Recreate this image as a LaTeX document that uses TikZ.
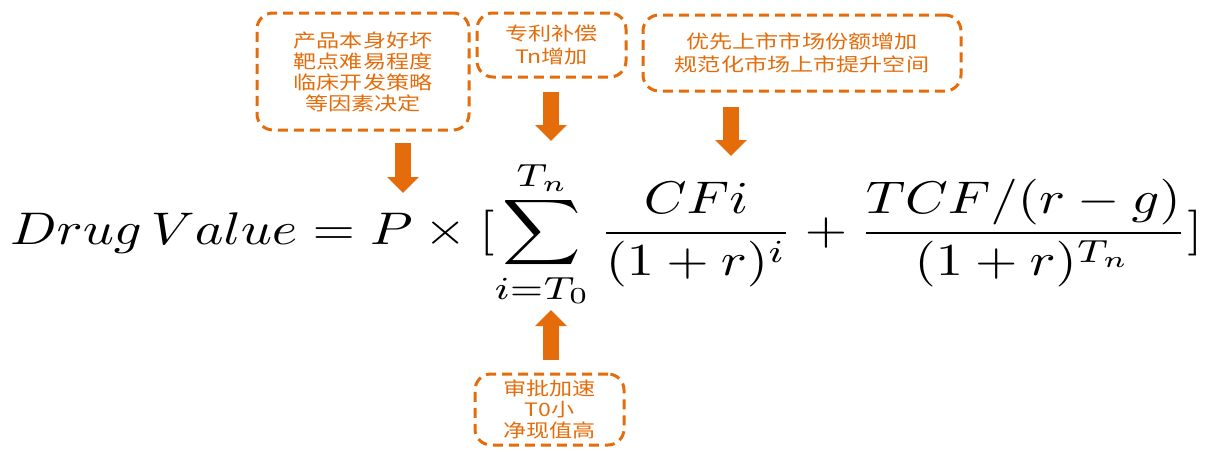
\documentclass[tikz,border=0pt]{standalone}
\usepackage{fontspec}
\usepackage{amsmath}
\usetikzlibrary{arrows.meta}
\newfontfamily\cjk[FakeStretch=1.25]{Noto Sans CJK SC}
\definecolor{org}{HTML}{E46C0A}
\tikzset{
  dbox/.style={draw=org, line width=3pt, dash pattern=on 10pt off 6pt,
    rounded corners=16pt, inner sep=0pt, text=org, align=center,
    font=\cjk\fontsize{18.5}{22.5}\selectfont},
  bigarrow/.style={draw=org, line width=16pt,
    -{Triangle[width=31pt,length=16pt]}}
}
\begin{document}
\begin{tikzpicture}[x=1pt,y=-1pt]
\useasboundingbox (0,0) rectangle (1211,451);
% boxes
\node[dbox, minimum width=212pt, minimum height=117pt] (b1) at (363,71.5)
  {产品本身好坏\\[-1.5pt]靶点难易程度\\[-1.5pt]临床开发策略\\[-1.5pt]等因素决定};
\node[dbox, minimum width=149pt, minimum height=64pt] (b2) at (551.5,45)
  {专利补偿\\Tn增加};
\node[dbox, minimum width=318pt, minimum height=76pt] (b3) at (802,53)
  {优先上市市场份额增加\\规范化市场上市提升空间};
\node[dbox, minimum width=149pt, minimum height=71pt] (b4) at (549.5,409.5)
  {审批加速\\[-1.5pt]T0小\\[-1.5pt]净现值高};
% formula
\node[anchor=north west, inner sep=0pt] (f) at (10,160)
  {\resizebox*{1192pt}{148pt}{$\displaystyle Drug\,Value = P\times[\sum_{i=T_0}^{T_n}\frac{CFi}{(1+r)^i}+\frac{TCF/(r-g)}{(1+r)^{T_n}}]$}};
% arrows
\coordinate (a1s) at (403,143);
\coordinate (a1e) at (403,193);
\coordinate (a2s) at (551,92);
\coordinate (a2e) at (551,141);
\coordinate (a3s) at (731,107);
\coordinate (a3e) at (731,156);
\coordinate (a4s) at (551,360);
\coordinate (a4e) at (551,310);
\draw[bigarrow] (a1s) -- (a1e);
\draw[bigarrow] (a2s) -- (a2e);
\draw[bigarrow] (a3s) -- (a3e);
\draw[bigarrow] (a4s) -- (a4e);
\end{tikzpicture}
\end{document}
